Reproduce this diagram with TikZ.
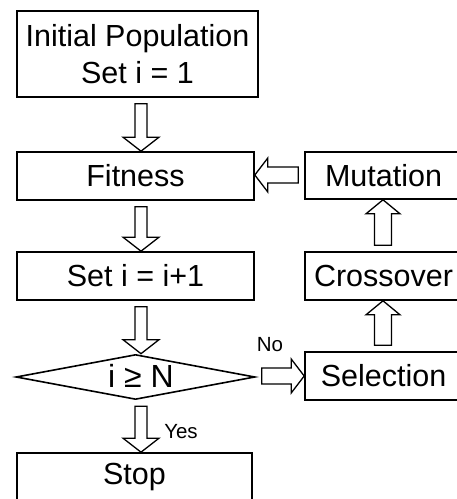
\documentclass[tikz,border=0pt]{standalone}
\usepackage{fontspec}
\setmainfont{Liberation Sans}
\usetikzlibrary{calc,shapes.geometric}
\tikzset{
  box/.style={draw, line width=1.6pt, rectangle, inner sep=0pt, align=center,
    font=\fontsize{30.5}{37}\selectfont},
  dec/.style={draw, line width=1.6pt, diamond, aspect=5.3, inner sep=0pt},
  blk/.style={draw, line width=1.3pt, fill=white, line join=miter},
  lbl/.style={inner sep=0pt, font=\fontsize{20.5}{24}\selectfont}
}
% vertical block arrow: from node #1 (anchor #2) to node #3 (anchor #4) at x=#5
\newcommand\vblk[7]{% #6 shaft half width, #7 head half width
  \draw[blk] let \p1=(#1.#2), \p2=(#3.#4), \n1={sign(\y2-\y1)} in
    ($(#5pt-#6pt,\y1+\n1*6pt)$) -- ($(#5pt-#6pt,\y2-\n1*14pt)$) -- ($(#5pt-#7pt,\y2-\n1*14pt)$)
    -- (#5pt,\y2) -- ($(#5pt+#7pt,\y2-\n1*14pt)$) -- ($(#5pt+#6pt,\y2-\n1*14pt)$)
    -- ($(#5pt+#6pt,\y1+\n1*6pt)$) -- cycle;}
% horizontal block arrow
\newcommand\hblk[5]{% from #1.#2 to #3.#4 at y=#5
  \draw[blk] let \p1=(#1.#2), \p2=(#3.#4), \n1={sign(\x2-\x1)} in
    ($(\x1+\n1*6pt,#5pt-8pt)$) -- ($(\x2-\n1*13pt,#5pt-8pt)$) -- ($(\x2-\n1*13pt,#5pt-17pt)$)
    -- (\x2,#5pt) -- ($(\x2-\n1*13pt,#5pt+17pt)$) -- ($(\x2-\n1*13pt,#5pt+8pt)$)
    -- ($(\x1+\n1*6pt,#5pt+8pt)$) -- cycle;}
\begin{document}
\begin{tikzpicture}[x=1pt,y=1pt]
\useasboundingbox (0,0) rectangle (457,499);
\clip (0,0) rectangle (457,499);
\fill[white] (0,0) rectangle (457,499);
% left column
\node[box, minimum width=241pt, minimum height=86pt] (init) at (137.5,445) {Initial Population\\Set i = 1};
\node[box, minimum width=237pt, minimum height=48pt] (fit) at (135.5,323) {Fitness};
\node[box, minimum width=237pt, minimum height=48pt] (inc) at (135.5,223) {Set i = i+1};
\node[dec, minimum width=239pt, minimum height=45pt] (cond) at (135.5,122) {};
\node[inner sep=0pt, font=\fontsize{32}{36}\selectfont] (condt) at (141,123) {i ≥ N};
\node[box, minimum width=235pt, minimum height=48pt] (stop) at (134.5,22) {Stop};
% right column
\node[box, minimum width=157pt, minimum height=47pt] (mut) at (383.5,323.5) {Mutation};
\node[box, minimum width=157pt, minimum height=48pt] (cross) at (383.5,223) {Crossover};
\node[box, minimum width=157pt, minimum height=48pt] (sel) at (383.5,123) {Selection};
% block arrows
\vblk{init}{south}{fit}{north}{141}{6}{18}
\vblk{fit}{south}{inc}{north}{141}{6}{18}
\vblk{inc}{south}{cond}{north}{141}{6}{18}
\vblk{cond}{south}{stop}{north}{141}{6}{18}
\vblk{sel}{north}{cross}{south}{383}{8.5}{17}
\vblk{cross}{north}{mut}{south}{383}{8.5}{17}
\hblk{mut}{west}{fit}{east}{324}
\hblk{cond}{east}{sel}{west}{123}
% labels
\node[lbl] (no) at (270,154) {No};
\node[lbl] (yes) at (181,67) {Yes};
\end{tikzpicture}
\end{document}
